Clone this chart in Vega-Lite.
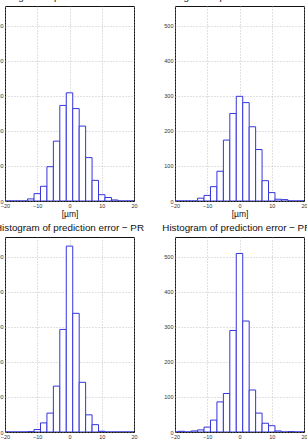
{
  "$schema": "https://vega.github.io/schema/vega-lite/v6.json",
  "padding": {"left": -7, "top": -9, "right": 0, "bottom": 0},
  "background": "white",
  "bounds": "flush",
  "columns": 2,
  "spacing": {"row": 36, "column": 41},
  "config": {
    "font": "Liberation Sans",
    "view": {"stroke": "#111", "strokeWidth": 1},
    "axis": {
      "domain": false, "ticks": false, "labelFontSize": 5.5, "labelColor": "#333",
      "labelPadding": 2, "grid": true, "gridColor": "#aaa", "gridDash": [1, 2], "gridWidth": 0.7,
      "labelFlush": false, "titleFontWeight": "normal", "titleFontSize": 8.5, "titleColor": "#111"
    },
    "title": {"fontSize": 9.8, "fontWeight": "normal", "color": "#111", "offset": 4}
  },
  "datasets": {
    "h": [
      {"p": "TL", "lo": -21, "hi": -19, "n": 0}, {"p": "TL", "lo": -19, "hi": -17, "n": 0},
      {"p": "TL", "lo": -17, "hi": -15, "n": 0}, {"p": "TL", "lo": -15, "hi": -13, "n": 0},
      {"p": "TL", "lo": -13, "hi": -11, "n": 6}, {"p": "TL", "lo": -11, "hi": -9, "n": 21},
      {"p": "TL", "lo": -9, "hi": -7, "n": 42}, {"p": "TL", "lo": -7, "hi": -5, "n": 98},
      {"p": "TL", "lo": -5, "hi": -3, "n": 171}, {"p": "TL", "lo": -3, "hi": -1, "n": 273},
      {"p": "TL", "lo": -1, "hi": 1, "n": 309}, {"p": "TL", "lo": 1, "hi": 3, "n": 264},
      {"p": "TL", "lo": 3, "hi": 5, "n": 214}, {"p": "TL", "lo": 5, "hi": 7, "n": 124},
      {"p": "TL", "lo": 7, "hi": 9, "n": 59}, {"p": "TL", "lo": 9, "hi": 11, "n": 18},
      {"p": "TL", "lo": 11, "hi": 13, "n": 10}, {"p": "TL", "lo": 13, "hi": 15, "n": 3},
      {"p": "TL", "lo": 15, "hi": 17, "n": 0}, {"p": "TL", "lo": 17, "hi": 19, "n": 0},
      {"p": "TL", "lo": 19, "hi": 21, "n": 0},

      {"p": "TR", "lo": -21, "hi": -19, "n": 0}, {"p": "TR", "lo": -19, "hi": -17, "n": 0},
      {"p": "TR", "lo": -17, "hi": -15, "n": 0}, {"p": "TR", "lo": -15, "hi": -13, "n": 0},
      {"p": "TR", "lo": -13, "hi": -11, "n": 8}, {"p": "TR", "lo": -11, "hi": -9, "n": 16},
      {"p": "TR", "lo": -9, "hi": -7, "n": 41}, {"p": "TR", "lo": -7, "hi": -5, "n": 85},
      {"p": "TR", "lo": -5, "hi": -3, "n": 174}, {"p": "TR", "lo": -3, "hi": -1, "n": 250},
      {"p": "TR", "lo": -1, "hi": 1, "n": 299}, {"p": "TR", "lo": 1, "hi": 3, "n": 281},
      {"p": "TR", "lo": 3, "hi": 5, "n": 212}, {"p": "TR", "lo": 5, "hi": 7, "n": 147},
      {"p": "TR", "lo": 7, "hi": 9, "n": 58}, {"p": "TR", "lo": 9, "hi": 11, "n": 24},
      {"p": "TR", "lo": 11, "hi": 13, "n": 5}, {"p": "TR", "lo": 13, "hi": 15, "n": 4},
      {"p": "TR", "lo": 15, "hi": 17, "n": 0}, {"p": "TR", "lo": 17, "hi": 19, "n": 0},
      {"p": "TR", "lo": 19, "hi": 21, "n": 0},

      {"p": "BL", "lo": -21, "hi": -19, "n": 0}, {"p": "BL", "lo": -19, "hi": -17, "n": 0},
      {"p": "BL", "lo": -17, "hi": -15, "n": 0}, {"p": "BL", "lo": -15, "hi": -13, "n": 0},
      {"p": "BL", "lo": -13, "hi": -11, "n": 1}, {"p": "BL", "lo": -11, "hi": -9, "n": 7},
      {"p": "BL", "lo": -9, "hi": -7, "n": 26}, {"p": "BL", "lo": -7, "hi": -5, "n": 54},
      {"p": "BL", "lo": -5, "hi": -3, "n": 131}, {"p": "BL", "lo": -3, "hi": -1, "n": 293},
      {"p": "BL", "lo": -1, "hi": 1, "n": 531}, {"p": "BL", "lo": 1, "hi": 3, "n": 339},
      {"p": "BL", "lo": 3, "hi": 5, "n": 142}, {"p": "BL", "lo": 5, "hi": 7, "n": 49},
      {"p": "BL", "lo": 7, "hi": 9, "n": 21}, {"p": "BL", "lo": 9, "hi": 11, "n": 2},
      {"p": "BL", "lo": 11, "hi": 13, "n": 0}, {"p": "BL", "lo": 13, "hi": 15, "n": 0},
      {"p": "BL", "lo": 15, "hi": 17, "n": 0}, {"p": "BL", "lo": 17, "hi": 19, "n": 0},
      {"p": "BL", "lo": 19, "hi": 21, "n": 0},

      {"p": "BR", "lo": -21, "hi": -19, "n": 0}, {"p": "BR", "lo": -19, "hi": -17, "n": 2},
      {"p": "BR", "lo": -17, "hi": -15, "n": 0}, {"p": "BR", "lo": -15, "hi": -13, "n": 3},
      {"p": "BR", "lo": -13, "hi": -11, "n": 6}, {"p": "BR", "lo": -11, "hi": -9, "n": 14},
      {"p": "BR", "lo": -9, "hi": -7, "n": 34}, {"p": "BR", "lo": -7, "hi": -5, "n": 86},
      {"p": "BR", "lo": -5, "hi": -3, "n": 110}, {"p": "BR", "lo": -3, "hi": -1, "n": 290},
      {"p": "BR", "lo": -1, "hi": 1, "n": 510}, {"p": "BR", "lo": 1, "hi": 3, "n": 317},
      {"p": "BR", "lo": 3, "hi": 5, "n": 120}, {"p": "BR", "lo": 5, "hi": 7, "n": 54},
      {"p": "BR", "lo": 7, "hi": 9, "n": 25}, {"p": "BR", "lo": 9, "hi": 11, "n": 18},
      {"p": "BR", "lo": 11, "hi": 13, "n": 3}, {"p": "BR", "lo": 13, "hi": 15, "n": 0},
      {"p": "BR", "lo": 15, "hi": 17, "n": 1}, {"p": "BR", "lo": 17, "hi": 19, "n": 0},
      {"p": "BR", "lo": 19, "hi": 21, "n": 0}
    ]
  },
  "concat": [
    {
      "width": 129, "height": 195,
      "title": "Histogram of prediction error − LS",
      "data": {"name": "h"},
      "transform": [{"filter": "datum.p == 'TL'"}],
      "mark": {"type": "rect", "fill": "white", "stroke": "#3535dc", "strokeWidth": 1, "clip": true},
      "encoding": {
        "x": {"field": "lo", "type": "quantitative", "scale": {"domain": [-20, 20], "nice": false, "zero": false},
              "axis": {"values": [-20, -10, 0, 10, 20], "title": "[µm]", "titlePadding": 1}},
        "x2": {"field": "hi"},
        "y": {"field": "n", "type": "quantitative", "scale": {"domain": [0, 557], "nice": false},
              "axis": {"values": [0, 100, 200, 300, 400, 500], "title": null}},
        "y2": {"datum": 0}
      }
    },
    {
      "width": 129, "height": 195,
      "title": "Histogram of prediction error − WLS",
      "data": {"name": "h"},
      "transform": [{"filter": "datum.p == 'TR'"}],
      "mark": {"type": "rect", "fill": "white", "stroke": "#3535dc", "strokeWidth": 1, "clip": true},
      "encoding": {
        "x": {"field": "lo", "type": "quantitative", "scale": {"domain": [-20, 20], "nice": false, "zero": false},
              "axis": {"values": [-20, -10, 0, 10, 20], "title": "[µm]", "titlePadding": 1}},
        "x2": {"field": "hi"},
        "y": {"field": "n", "type": "quantitative", "scale": {"domain": [0, 557], "nice": false},
              "axis": {"values": [0, 100, 200, 300, 400, 500], "title": null}},
        "y2": {"datum": 0}
      }
    },
    {
      "width": 129, "height": 195,
      "title": "Histogram of prediction error − PR",
      "data": {"name": "h"},
      "transform": [{"filter": "datum.p == 'BL'"}],
      "mark": {"type": "rect", "fill": "white", "stroke": "#3535dc", "strokeWidth": 1, "clip": true},
      "encoding": {
        "x": {"field": "lo", "type": "quantitative", "scale": {"domain": [-20, 20], "nice": false, "zero": false},
              "axis": {"values": [-20, -10, 0, 10, 20], "title": null}},
        "x2": {"field": "hi"},
        "y": {"field": "n", "type": "quantitative", "scale": {"domain": [0, 557], "nice": false},
              "axis": {"values": [0, 100, 200, 300, 400, 500], "title": null}},
        "y2": {"datum": 0}
      }
    },
    {
      "width": 129, "height": 195,
      "title": "Histogram of prediction error − PR2",
      "data": {"name": "h"},
      "transform": [{"filter": "datum.p == 'BR'"}],
      "mark": {"type": "rect", "fill": "white", "stroke": "#3535dc", "strokeWidth": 1, "clip": true},
      "encoding": {
        "x": {"field": "lo", "type": "quantitative", "scale": {"domain": [-20, 20], "nice": false, "zero": false},
              "axis": {"values": [-20, -10, 0, 10, 20], "title": null}},
        "x2": {"field": "hi"},
        "y": {"field": "n", "type": "quantitative", "scale": {"domain": [0, 557], "nice": false},
              "axis": {"values": [0, 100, 200, 300, 400, 500], "title": null}},
        "y2": {"datum": 0}
      }
    }
  ]
}
